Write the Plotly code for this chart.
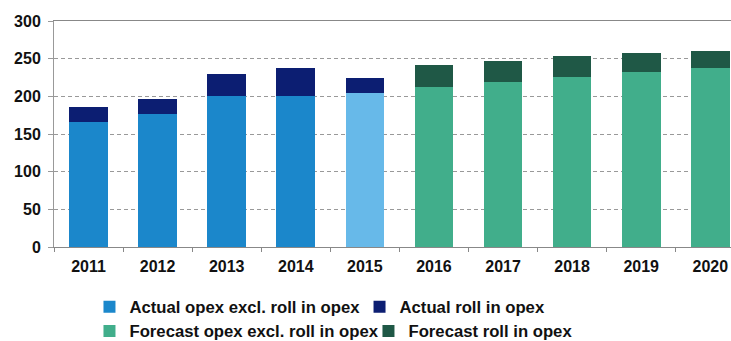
import plotly.graph_objects as go

years_actual = ["2011", "2012", "2013", "2014", "2015"]
years_forecast = ["2016", "2017", "2018", "2019", "2020"]
actual_opex_excl = [166.5, 176, 200.5, 201, 204.5]
actual_roll = [20, 21, 29.5, 36.5, 20]
forecast_opex_excl = [212.5, 219, 225.5, 232.5, 237.5]
forecast_roll = [29, 28, 28, 24.5, 23]
y_ticks = [0, 50, 100, 150, 200, 250, 300]

c_actual = "#1B87CB"
c_actual_2015 = "#67B9E9"
c_actual_roll = "#0C1E72"
c_fc = "#41AE8B"
c_fc_roll = "#1F5846"

font_family = "Liberation Sans, Arial, sans-serif"
tick_font = dict(family=font_family, size=16, color="#111111", weight="bold")
legend_font = dict(family=font_family, size=16.7, color="#111111", weight="bold")

fig = go.Figure()
fig.add_trace(go.Bar(x=years_actual, y=actual_opex_excl, name="Actual opex excl. roll in opex",
                     marker=dict(color=[c_actual] * 4 + [c_actual_2015], line_width=0),
                     legend="legend"))
fig.add_trace(go.Bar(x=years_actual, y=actual_roll, name="Actual roll in opex",
                     marker=dict(color=c_actual_roll, line_width=0), legend="legend2"))
fig.add_trace(go.Bar(x=years_forecast, y=forecast_opex_excl, name="Forecast opex excl. roll in opex",
                     marker=dict(color=c_fc, line_width=0), legend="legend3"))
fig.add_trace(go.Bar(x=years_forecast, y=forecast_roll, name="Forecast roll in opex",
                     marker=dict(color=c_fc_roll, line_width=0), legend="legend4"))

def leg(x, y):
    return dict(orientation="h", x=x, xanchor="left", y=y, yanchor="middle",
                font=legend_font, bgcolor="rgba(0,0,0,0)")

fig.update_layout(
    width=731, height=341,
    margin=dict(l=54, r=0, t=21, b=94, autoexpand=False),
    barmode="stack",
    bargap=0.44,
    plot_bgcolor="white",
    paper_bgcolor="white",
    xaxis=dict(
        type="category",
        categoryorder="array",
        categoryarray=years_actual + years_forecast,
        range=[-0.5, 9.3],
        tickfont=tick_font,
        showline=True, linecolor="#888888", linewidth=1,
        mirror=True,
        ticks="outside", tickson="boundaries", ticklen=4, tickcolor="#888888",
        ticklabelstandoff=5,
        showgrid=False,
    ),
    yaxis=dict(
        range=[0, 300],
        tickvals=y_ticks,
        tickfont=tick_font,
        showline=True, linecolor="#999999", linewidth=1,
        ticks="outside", ticklen=5, tickcolor="#999999",
        ticklabelstandoff=4,
        showgrid=True, gridcolor="#999999", griddash="4px,3px", gridwidth=1,
        zeroline=False,
    ),
    legend=leg(0.0524, -0.265),
    legend2=leg(0.4513, -0.265),
    legend3=leg(0.0524, -0.372),
    legend4=leg(0.4645, -0.372),
    showlegend=True,
)

fig.write_html("out.html")
